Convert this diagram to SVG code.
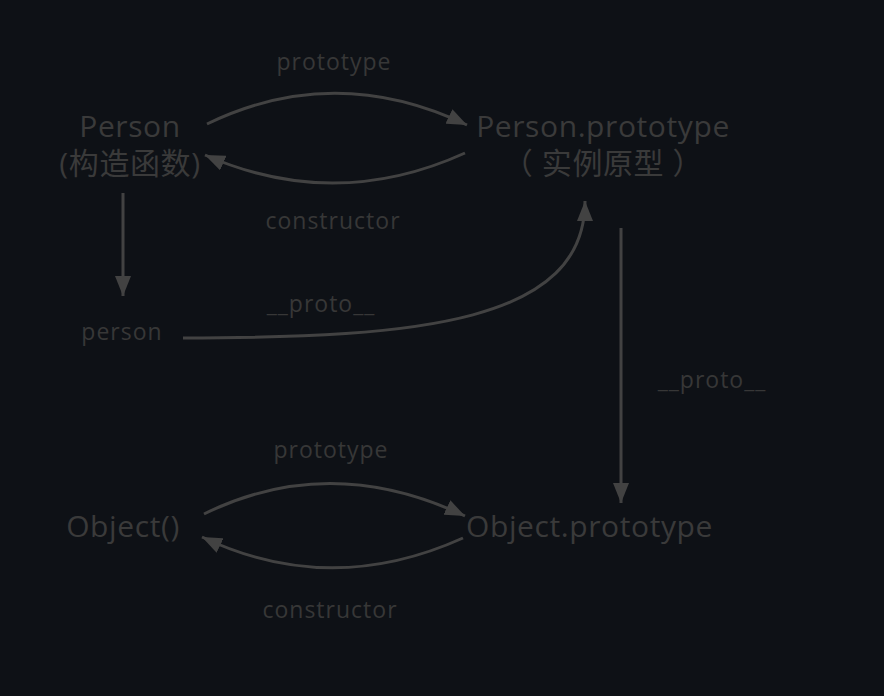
<svg xmlns="http://www.w3.org/2000/svg" width="884" height="696" viewBox="0 0 884 696">
  <defs>
    <marker id="arrow" viewBox="0 0 20 16" refX="20" refY="8" markerWidth="20" markerHeight="16" markerUnits="userSpaceOnUse" orient="auto">
      <path d="M0,0 L20,8 L0,16 Z" fill="#424242"/>
    </marker>
    <style>
      .bg { fill: #0e1116; }
      .node { font-family: "Open Sans", "Noto Sans", "Noto Sans CJK SC", sans-serif; font-size: 30px; letter-spacing: 0.6px; fill: #3a3a3a; }
      .lbl { font-family: "Open Sans", "Noto Sans", sans-serif; font-size: 23px; letter-spacing: 1px; fill: #373737; }
      .edge { fill: none; stroke: #424242; stroke-width: 3; marker-end: url(#arrow); }
    </style>
  </defs>
  <rect class="bg" x="0" y="0" width="884" height="696"/>

  <g id="connectors">
    <path class="edge" d="M207,124 Q335,62 467,125"/>
    <path class="edge" d="M465,153 Q335,212 205,155"/>
    <path class="edge" d="M123,193 L123,296"/>
    <path class="edge" d="M183,338 C420,338 585,322 585,201"/>
    <path class="edge" d="M621,228 L621,503"/>
    <path class="edge" d="M204,514 Q330,452 465,516"/>
    <path class="edge" d="M463,538 Q330,598 202,537"/>
  </g>

  <g id="edge-labels" text-anchor="middle">
    <text class="lbl" x="334" y="70">prototype</text>
    <text class="lbl" x="333" y="229">constructor</text>
    <text class="lbl" x="321" y="312">__proto__</text>
    <text class="lbl" x="712" y="388">__proto__</text>
    <text class="lbl" x="331" y="458">prototype</text>
    <text class="lbl" x="330" y="618">constructor</text>
  </g>

  <g id="person-ctor" text-anchor="middle">
    <text class="node" x="130" y="137">Person</text>
    <text class="node" x="130" y="174">(构造函数)</text>
  </g>

  <g id="person-prototype" text-anchor="middle">
    <text class="node" x="603" y="137">Person.prototype</text>
    <text class="node" x="603" y="174">（ 实例原型 ）</text>
  </g>

  <g id="person-instance">
    <text class="lbl" x="122" y="340" text-anchor="middle">person</text>
  </g>

  <g id="object-ctor">
    <text class="node" x="123" y="537" text-anchor="middle">Object()</text>
  </g>

  <g id="object-prototype">
    <text class="node" x="466" y="537">Object.prototype</text>
  </g>
</svg>
